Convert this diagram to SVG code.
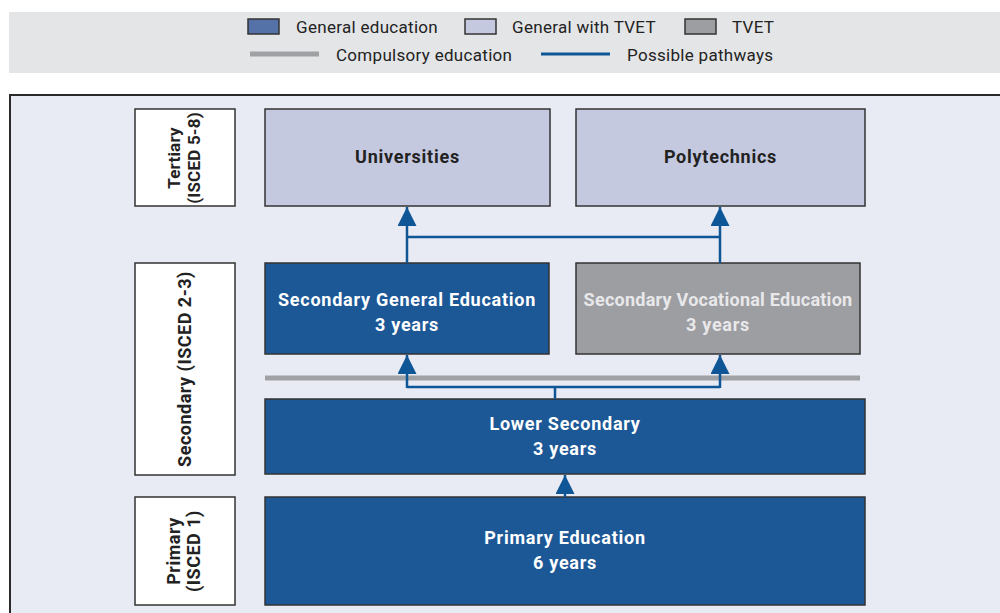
<svg xmlns="http://www.w3.org/2000/svg" width="1000" height="613" viewBox="0 0 1000 613">
<defs>
<style>
.t{font-family:"Roboto","Liberation Sans",sans-serif;}
.lg{font-size:17px;fill:#222;letter-spacing:0.3px;}
.b{font-size:18px;font-weight:bold;text-anchor:middle;letter-spacing:0.75px;}
.w{fill:#fff;}
.d{fill:#222;}
.gen{fill:#1c5796;stroke:#333;stroke-width:1.5;}
.tv{fill:#c5c9e0;stroke:#333;stroke-width:1.5;}
.vo{fill:#9d9ea2;stroke:#333;stroke-width:1.5;}
.lab{fill:#fff;stroke:#333;stroke-width:1.5;}
.c{fill:none;stroke:#0f5696;stroke-width:2.5;}
</style>
<marker id="ah" viewBox="0 0 10 10" refX="10" refY="5" markerWidth="19" markerHeight="19" markerUnits="userSpaceOnUse" orient="auto">
<path d="M0,0 L10,5 L0,10 Z" fill="#0f5696"/>
</marker>
</defs>
<rect x="0" y="0" width="1000" height="613" fill="#ffffff"/>
<g id="legend">
<rect x="9" y="12" width="991" height="61" fill="#e4e5e7"/>
<rect x="248" y="19" width="31" height="15" fill="#5471a8" stroke="#333" stroke-width="1.5"/>
<text class="t lg" x="296" y="33">General education</text>
<rect x="465" y="19" width="31" height="15" fill="#c5c9e0" stroke="#333" stroke-width="1.5"/>
<text class="t lg" x="512" y="33">General with TVET</text>
<rect x="685" y="19" width="31" height="15" fill="#9d9ea2" stroke="#333" stroke-width="1.5"/>
<text class="t lg" x="732" y="33">TVET</text>
<line x1="250" y1="54" x2="319" y2="54" stroke="#a0a1a4" stroke-width="5"/>
<text class="t lg" x="336" y="61">Compulsory education</text>
<line x1="541" y1="54" x2="610" y2="54" stroke="#0f5696" stroke-width="3"/>
<text class="t lg" x="627" y="61">Possible pathways</text>
</g>
<rect x="10" y="95" width="992" height="520" fill="#e8eaf4" stroke="#2a2a2a" stroke-width="2"/>
<g id="label-tertiary">
<rect class="lab" x="135" y="109" width="100" height="97"/>
<text class="t b d" style="letter-spacing:0.2px;font-size:17px" transform="translate(185,158) rotate(-90)"><tspan x="0" y="-5">Tertiary</tspan><tspan x="0" y="15">(ISCED 5-8)</tspan></text>
</g>
<g id="label-secondary">
<rect class="lab" x="135" y="263" width="100" height="212"/>
<text class="t b d" style="letter-spacing:0.5px" transform="translate(185,369) rotate(-90)" x="0" y="6">Secondary (ISCED 2-3)</text>
</g>
<g id="label-primary">
<rect class="lab" x="135" y="497" width="100" height="108"/>
<text class="t b d" style="letter-spacing:0.5px" transform="translate(185,551) rotate(-90)"><tspan x="0" y="-5">Primary</tspan><tspan x="0" y="15">(ISCED 1)</tspan></text>
</g>
<g id="universities">
<rect class="tv" x="265" y="109" width="285" height="97"/>
<text class="t b d" x="407.5" y="163">Universities</text>
</g>
<g id="polytechnics">
<rect class="tv" x="576" y="109" width="289" height="97"/>
<text class="t b d" x="720.5" y="163">Polytechnics</text>
</g>
<g id="sec-general">
<rect class="gen" x="265" y="263" width="284" height="91"/>
<text class="t b w" x="407" y="306">Secondary General Education</text>
<text class="t b w" x="407" y="331">3 years</text>
</g>
<g id="sec-vocational">
<rect class="vo" x="576" y="263" width="284" height="91"/>
<text class="t b" style="letter-spacing:0.25px" fill="#e8e8ea" x="718" y="306">Secondary Vocational Education</text>
<text class="t b" fill="#e8e8ea" x="718" y="331">3 years</text>
</g>
<g id="compulsory">
<line x1="265" y1="378" x2="860" y2="378" stroke="#a0a1a4" stroke-width="5"/>
</g>
<g id="lower-secondary">
<rect class="gen" x="265" y="399" width="600" height="75"/>
<text class="t b w" x="565" y="430">Lower Secondary</text>
<text class="t b w" x="565" y="455">3 years</text>
</g>
<g id="primary">
<rect class="gen" x="265" y="497" width="600" height="108"/>
<text class="t b w" x="565" y="544">Primary Education</text>
<text class="t b w" x="565" y="569">6 years</text>
</g>
<g id="connectors">
<path class="c" d="M407,263 V207" marker-end="url(#ah)"/>
<path class="c" d="M720,263 V207" marker-end="url(#ah)"/>
<path class="c" d="M407,237 H720"/>
<path class="c" d="M555,399 V387"/>
<path class="c" d="M407,387 H720"/>
<path class="c" d="M407,388 V355" marker-end="url(#ah)"/>
<path class="c" d="M720,388 V355" marker-end="url(#ah)"/>
<path class="c" d="M565,497 V475" marker-end="url(#ah)"/>
</g>
</svg>
